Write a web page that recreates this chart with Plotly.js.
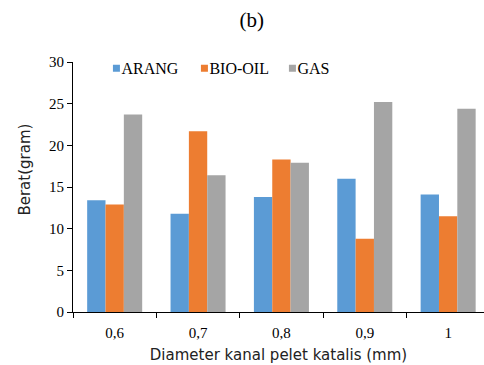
<!DOCTYPE html>
<html>
<head>
<meta charset="utf-8">
<script src="https://cdn.plot.ly/plotly-3.0.1.min.js"></script>
<style>html,body{margin:0;padding:0;background:#fff;}#chart{width:484px;height:365px;}</style>
</head>
<body>
<div id="chart"></div>
<script>
var categories = ["0,6", "0,7", "0,8", "0,9", "1"];
var arang = [13.4, 11.8, 13.8, 16.0, 14.1];
var bioOil = [12.9, 21.7, 18.3, 8.8, 11.5];
var gas = [23.7, 16.4, 17.9, 25.2, 24.4];
var seriesNames = ["ARANG", "BIO-OIL", "GAS"];
var seriesColors = ["#5B9BD5", "#ED7D31", "#A5A5A5"];
var seriesValues = [arang, bioOil, gas];

var traces = [];
seriesValues.forEach(function (vals, i) {
  traces.push({
    type: "bar", x: categories, y: vals, name: seriesNames[i],
    marker: {color: seriesColors[i], line: {width: 0}},
    showlegend: false, hoverinfo: "x+y"
  });
});
seriesValues.forEach(function (vals, i) {
  traces.push({
    type: "scatter", mode: "markers", x: [null], y: [null], name: seriesNames[i],
    marker: {symbol: "square", size: 7, color: seriesColors[i]},
    showlegend: true, hoverinfo: "skip"
  });
});

var layout = {
  width: 484, height: 365,
  margin: {l: 73, r: 0, t: 62, b: 53},
  paper_bgcolor: "#fff", plot_bgcolor: "#fff",
  barmode: "group", bargap: 0.34, bargroupgap: 0,
  title: {text: "(b)", x: 0.52, xanchor: "center", y: 0.945, yanchor: "middle",
          font: {family: "Liberation Serif", size: 21, color: "#000"}},
  xaxis: {
    type: "category", range: [-0.5, 4.43],
    showline: true, linecolor: "#000", linewidth: 1,
    ticks: "outside", ticklen: 5, tickcolor: "#000", tickson: "boundaries",
    ticklabelstandoff: 7,
    showgrid: false, zeroline: false,
    tickfont: {family: "Liberation Serif", size: 15, color: "#000"},
    title: {text: "Diameter kanal pelet katalis (mm)", standoff: 9,
            font: {family: "DejaVu Sans", size: 15, color: "#222"}}
  },
  yaxis: {
    range: [0, 30], dtick: 5, tick0: 0,
    showline: true, linecolor: "#000", linewidth: 1,
    ticks: "outside", ticklen: 5, tickcolor: "#000",
    showgrid: false, zeroline: false,
    tickfont: {family: "Liberation Serif", size: 15, color: "#000"}
  },
  annotations: [{
    text: "Berat(gram)", xref: "paper", yref: "paper", x: -0.119, y: 0.57,
    xanchor: "center", yanchor: "middle", textangle: -90, showarrow: false,
    font: {family: "DejaVu Sans", size: 15, color: "#222"}
  }],
  legend: {
    orientation: "h", x: 0.057, xanchor: "left", y: 0.975, yanchor: "middle",
    bgcolor: "rgba(0,0,0,0)", font: {family: "Liberation Serif", size: 16, color: "#000"},
    itemwidth: 30, tracegroupgap: 0, entrywidth: 43, entrywidthmode: "pixels"
  }
};

Plotly.newPlot("chart", traces, layout, {displayModeBar: false, staticPlot: true}).then(function (gd) {
  var texts = gd.querySelectorAll(".legend .legendtext");
  texts.forEach(function (t) {
    t.setAttribute("x", 25);
    t.querySelectorAll("tspan").forEach(function (s) { if (s.hasAttribute("x")) s.setAttribute("x", 25); });
  });
});
</script>
</body>
</html>
